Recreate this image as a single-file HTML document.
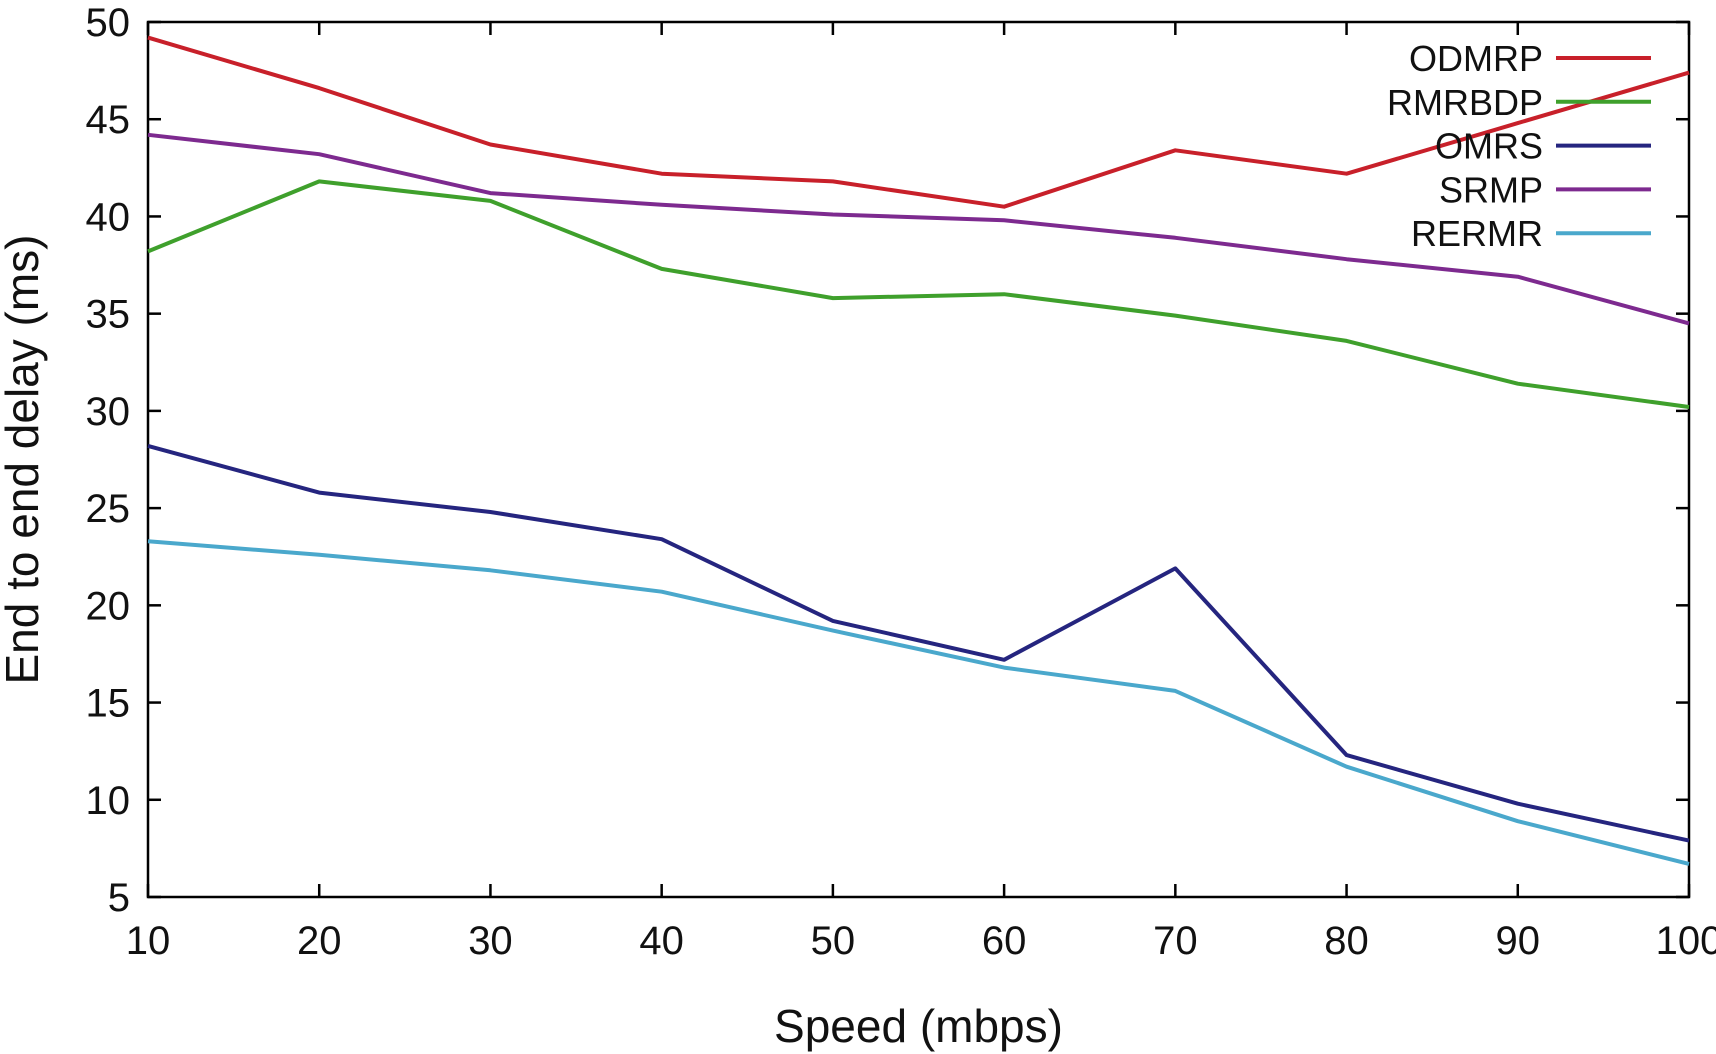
<!DOCTYPE html>
<html><head><meta charset="utf-8"><style>
html,body{margin:0;padding:0;background:#fff}
svg{display:block}
text{font-family:"Liberation Sans",Arial,sans-serif;fill:#111}
</style></head><body>
<svg id="chart" width="1716" height="1054" viewBox="0 0 1716 1054" xmlns="http://www.w3.org/2000/svg"></svg>
<script>
const categories=[10,20,30,40,50,60,70,80,90,100];
const seriesNames=["ODMRP","RMRBDP","OMRS","SRMP","RERMR"];
const odmrp=[49.2,46.6,43.7,42.2,41.8,40.5,43.4,42.2,44.8,47.4];
const rmrbdp=[38.2,41.8,40.8,37.3,35.8,36.0,34.9,33.6,31.4,30.2];
const omrs=[28.2,25.8,24.8,23.4,19.2,17.2,21.9,12.3,9.8,7.9];
const srmp=[44.2,43.2,41.2,40.6,40.1,39.8,38.9,37.8,36.9,34.5];
const rermr=[23.3,22.6,21.8,20.7,18.7,16.8,15.6,11.7,8.9,6.7];
const yTicks=[5,10,15,20,25,30,35,40,45,50];
const xTicks=[10,20,30,40,50,60,70,80,90,100];

const svg=document.getElementById('chart');
const NS='http://www.w3.org/2000/svg';
const L=148,R=1689,T=22,B=897;
const xs=v=>L+(v-10)/90*(R-L);
const ys=v=>B-(v-5)/45*(B-T);
function mk(tag,attrs,parent){const e=document.createElementNS(NS,tag);for(const k in attrs)e.setAttribute(k,attrs[k]);(parent||svg).appendChild(e);return e;}

const frame=mk('rect',{x:L,y:T,width:R-L,height:B-T,fill:'none',stroke:'#000','stroke-width':2.5});



yTicks.forEach(v=>{
  const y=ys(v);
  const t1=mk('line',{x1:L,x2:L+13,y1:y,y2:y,stroke:'#000','stroke-width':2.5});
  
  
  const t2=mk('line',{x1:R-13,x2:R,y1:y,y2:y,stroke:'#000','stroke-width':2.5});
  
  
  const lb=mk('text',{x:L-18,y:y+14,'text-anchor':'end','font-size':40});
  lb.textContent=v;
  
  
});
xTicks.forEach(v=>{
  const x=xs(v);
  const t1=mk('line',{x1:x,x2:x,y1:B,y2:B-13,stroke:'#000','stroke-width':2.5});
  
  
  const t2=mk('line',{x1:x,x2:x,y1:T,y2:T+13,stroke:'#000','stroke-width':2.5});
  
  
  const lb=mk('text',{x:x,y:B+57,'text-anchor':'middle','font-size':40});
  lb.textContent=v;
  
  
});

const xt=mk('text',{x:(L+R)/2,y:1042,'text-anchor':'middle','font-size':46});
xt.textContent='Speed (mbps)';


const yt=mk('text',{x:0,y:0,'text-anchor':'middle','font-size':46,transform:'translate(38,'+(T+B)/2+') rotate(-90)'});
yt.textContent='End to end delay (ms)';



const allSeries=[odmrp,rmrbdp,omrs,srmp,rermr];
const colors=['#c8202a','#3fa02c','#25257f','#7d2a8f','#4aa8cc'];
allSeries.forEach((s,i)=>{
  const d=s.map((v,j)=>(j?'L':'M')+xs(categories[j]).toFixed(1)+' '+ys(v).toFixed(1)).join(' ');
  const p=mk('path',{d:d,fill:'none',stroke:colors[i],'stroke-width':4,'stroke-linejoin':'round'});
  
  
  const ly=58+i*43.8;
  const lt=mk('text',{x:1543,y:ly+13,'text-anchor':'end','font-size':36});
  lt.textContent=seriesNames[i];
  
  
  const ll=mk('line',{x1:1556,x2:1651,y1:ly,y2:ly,stroke:colors[i],'stroke-width':4});
  
  
});
</script>
</body></html>
